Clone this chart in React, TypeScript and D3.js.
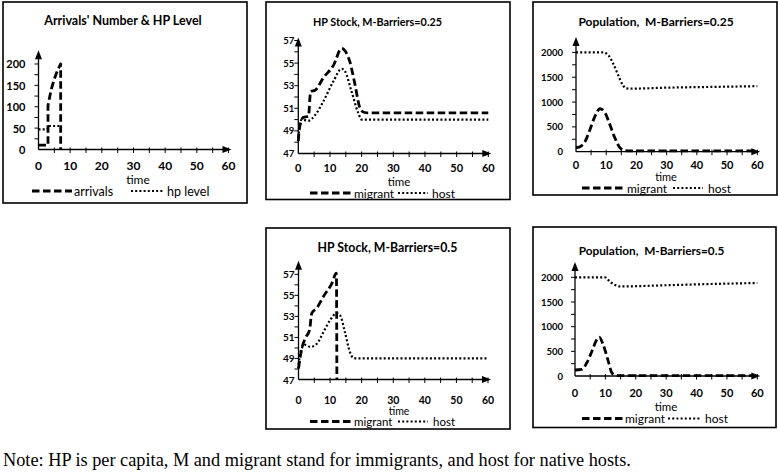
import React from 'react';
import * as d3 from 'd3';

// ---------- data ----------
const timeLabels = [0, 10, 20, 30, 40, 50, 60];

// Panel 1: Arrivals' Number & HP Level
const arrivalsT = [0, 3, 3, 4, 5, 6, 7, 7];
const arrivalsV = [10, 10, 103, 140, 165, 185, 200, 0];
const hpLevelT = [0, 2.8, 3.3, 6.5];
const hpLevelV = [47, 47, 55, 55];
const p1YLabels = [0, 50, 100, 150, 200];

// Panel 2: HP Stock, M-Barriers=0.25
const hp25MigrantT = [0, 0.4, 1.6, 3.2, 3.9, 5.3, 7.9, 11.1, 13.7, 14.7, 16.3, 17.9, 19.5, 20.7, 22, 60];
const hp25MigrantV = [48.1, 49.3, 50.2, 50.3, 52.5, 52.6, 53.7, 54.8, 56.3, 56.1, 55.1, 53.1, 51.0, 50.65, 50.6, 50.6];
const hp25HostT = [0, 1.05, 3.2, 5.3, 7.9, 11.1, 13.7, 14.7, 16.8, 18.9, 20, 21, 60];
const hp25HostV = [48.4, 50, 49.9, 50.4, 51.6, 53.4, 54.5, 54.3, 52.5, 50.6, 50, 50, 50];
const hpYLabels = [47, 49, 51, 53, 55, 57];

// Panel 3: Population, M-Barriers=0.25
const pop25HostT = [0, 9, 10.7, 12.3, 14, 15.6, 16.7, 18, 30, 45, 60];
const pop25HostV = [2000, 2000, 1945, 1775, 1536, 1331, 1275, 1270, 1290, 1305, 1320];
const pop25MigrantT = [0, 1.3, 3, 4.6, 6.3, 7.9, 9.6, 11.2, 12.9, 14.5, 16.2, 18, 60];
const pop25MigrantV = [82, 102, 205, 444, 717, 865, 785, 546, 273, 82, 20, 15, 15];
const popYLabels = [0, 500, 1000, 1500, 2000];

// Panel 4: HP Stock, M-Barriers=0.5
const hp50MigrantT = [0, 1.05, 2.1, 3.5, 4.2, 5.8, 7.9, 10.5, 12, 12.15];
const hp50MigrantV = [48.05, 49.95, 50.9, 51.7, 53.3, 53.8, 54.9, 56.1, 57.1, 47];
const hp50HostT = [0, 1.05, 2.1, 3.7, 5.8, 7.9, 10, 12.1, 13.2, 14.7, 16.3, 17.4, 19, 60];
const hp50HostV = [48.4, 50, 50.3, 50.1, 50.4, 51.5, 52.65, 53.3, 53.1, 51.5, 49.6, 49.05, 49, 49];

// Panel 5: Population, M-Barriers=0.5
const pop50HostT = [0, 9.9, 11.5, 13.2, 14.8, 30, 45, 60];
const pop50HostV = [2000, 2000, 1912, 1845, 1815, 1840, 1865, 1885];
const pop50MigrantT = [0, 2.2, 3.8, 5.5, 7.1, 8.0, 9.3, 11, 12.1, 13.2, 15, 60];
const pop50MigrantV = [122, 135, 257, 493, 730, 790, 628, 290, 68, 20, 8, 8];

const noteText = 'Note: HP is per capita, M and migrant stand for immigrants, and host for native hosts.';

// ---------- styles ----------
const FONT = 'Lato, "Open Sans", sans-serif';
const DASH = { strokeWidth: 2.8, dash: '7.5,3.5' };
const DOT = { strokeWidth: 2.2, dash: '2,2.2' };

type Series = { t: number[]; v: number[]; kind: 'dash' | 'dot'; linear?: boolean };
type LegendItem = { kind: 'dash' | 'dot'; x0: number; x1: number; label: string; tx: number };
type PanelCfg = {
  box: [number, number, number, number];
  title: string;
  titleX: number;
  titleY: number;
  titleSize: number;
  xRange: [number, number];
  yDomain: [number, number];
  yRange: [number, number];
  yMinor: number;
  yMinorMax: number;
  yLabels: number[];
  yLabelGap: number;
  yLabelSize: number;
  xLabelY: number;
  xLabelSize: number;
  timeX: number;
  timeY: number;
  timeSize: number;
  legendY: number;
  legendSize: number;
  legend: LegendItem[];
  series: Series[];
};

function Panel({ cfg }: { cfg: PanelCfg }) {
  const [bx0, by0, bx1, by1] = cfg.box;
  const xs = d3.scaleLinear().domain([0, 60]).range(cfg.xRange);
  const ys = d3.scaleLinear().domain(cfg.yDomain).range(cfg.yRange);
  const ax = xs(0);
  const ay = ys(cfg.yDomain[0]);
  const yTop = ys(cfg.yDomain[1]);
  const xEnd = xs(60);
  const yMinorTicks = d3.range(cfg.yDomain[0] + cfg.yMinor, cfg.yMinorMax + 1e-6, cfg.yMinor);
  const xMinorTicks = d3.range(5, 60.001, 5);

  return (
    <g>
      <rect x={bx0} y={by0} width={bx1 - bx0} height={by1 - by0} fill="white" stroke="black" strokeWidth={1.6} />
      <text x={cfg.titleX} y={cfg.titleY} textAnchor="middle" dominantBaseline="central"
        fontFamily={FONT} fontWeight="bold" fontSize={cfg.titleSize} fill="black"
        style={{ whiteSpace: 'pre' }}>{cfg.title}</text>

      {/* series */}
      {cfg.series.map((s, i) => {
        const pts: [number, number][] = s.t.map((t, k) => [t, s.v[k]]);
        const line = d3.line<[number, number]>()
          .x(d => xs(d[0]))
          .y(d => ys(d[1]))
          .curve(s.linear ? d3.curveLinear : d3.curveMonotoneX);
        const st = s.kind === 'dash' ? DASH : DOT;
        return <path key={i} d={line(pts) || ''} fill="none" stroke="black"
          strokeWidth={st.strokeWidth} strokeDasharray={st.dash} strokeLinejoin="round" />;
      })}

      {/* axes */}
      <line x1={ax} y1={ay} x2={ax} y2={yTop + 4} stroke="black" strokeWidth={1.3} />
      <polygon points={`${ax},${yTop - 3} ${ax - 3.5},${yTop + 6} ${ax + 3.5},${yTop + 6}`} fill="black" />
      <line x1={ax} y1={ay} x2={xEnd - 4} y2={ay} stroke="black" strokeWidth={1.3} />
      <polygon points={`${xEnd + 3},${ay} ${xEnd - 6},${ay - 3.5} ${xEnd - 6},${ay + 3.5}`} fill="black" />

      {yMinorTicks.map((v, i) => (
        <line key={'yt' + i} x1={ax - 4} x2={ax} y1={ys(v)} y2={ys(v)} stroke="black" strokeWidth={1} />
      ))}
      {xMinorTicks.map((t, i) => (
        <line key={'xt' + i} x1={xs(t)} x2={xs(t)} y1={ay - 2} y2={ay + 3.5} stroke="black" strokeWidth={1} />
      ))}

      {cfg.yLabels.map((v, i) => (
        <text key={'yl' + i} x={ax - cfg.yLabelGap} y={ys(v)} textAnchor="end" dominantBaseline="central"
          fontFamily={FONT} fontWeight="bold" fontSize={cfg.yLabelSize} fill="black">{v}</text>
      ))}
      {timeLabels.map((t, i) => (
        <text key={'xl' + i} x={xs(t)} y={cfg.xLabelY} textAnchor="middle" dominantBaseline="central"
          fontFamily={FONT} fontWeight="bold" fontSize={cfg.xLabelSize} fill="black">{t}</text>
      ))}
      <text x={cfg.timeX} y={cfg.timeY} textAnchor="middle" dominantBaseline="central"
        fontFamily={FONT} fontSize={cfg.timeSize} fill="black">time</text>

      {cfg.legend.map((l, i) => {
        const st = l.kind === 'dash' ? DASH : DOT;
        return (
          <g key={'lg' + i}>
            <line x1={l.x0} x2={l.x1} y1={cfg.legendY} y2={cfg.legendY} stroke="black"
              strokeWidth={st.strokeWidth} strokeDasharray={st.dash} />
            <text x={l.tx} y={cfg.legendY} dominantBaseline="central" fontFamily={FONT}
              fontSize={cfg.legendSize} fill="black">{l.label}</text>
          </g>
        );
      })}
    </g>
  );
}

const panels: PanelCfg[] = [
  {
    box: [3, 2, 247, 203],
    title: "Arrivals' Number & HP Level", titleX: 123, titleY: 20, titleSize: 12.5,
    xRange: [38.5, 228.5], yDomain: [0, 225], yRange: [149.5, 53.3],
    yMinor: 25, yMinorMax: 200, yLabels: p1YLabels, yLabelGap: 13, yLabelSize: 11,
    xLabelY: 165, xLabelSize: 12,
    timeX: 138, timeY: 179.5, timeSize: 12, legendY: 191, legendSize: 12.5,
    legend: [
      { kind: 'dash', x0: 32, x1: 72, label: 'arrivals', tx: 74 },
      { kind: 'dot', x0: 131, x1: 163, label: 'hp level', tx: 167 },
    ],
    series: [
      { t: arrivalsT, v: arrivalsV, kind: 'dash', linear: true },
      { t: hpLevelT, v: hpLevelV, kind: 'dot', linear: true },
    ],
  },
  {
    box: [266, 2, 510, 199.5],
    title: 'HP Stock, M-Barriers=0.25', titleX: 377.5, titleY: 21.7, titleSize: 10.8,
    xRange: [298.3, 488.3], yDomain: [47, 57], yRange: [153.5, 40.5],
    yMinor: 1, yMinorMax: 57, yLabels: hpYLabels, yLabelGap: 4, yLabelSize: 9.5,
    xLabelY: 167, xLabelSize: 11,
    timeX: 399, timeY: 181, timeSize: 11.5, legendY: 193, legendSize: 12,
    legend: [
      { kind: 'dash', x0: 310, x1: 352, label: 'migrant', tx: 354 },
      { kind: 'dot', x0: 398, x1: 428, label: 'host', tx: 432 },
    ],
    series: [
      { t: hp25MigrantT, v: hp25MigrantV, kind: 'dash' },
      { t: hp25HostT, v: hp25HostV, kind: 'dot' },
    ],
  },
  {
    box: [533, 2, 777, 195],
    title: 'Population,  M-Barriers=0.25', titleX: 656, titleY: 21.7, titleSize: 12,
    xRange: [576, 757.3], yDomain: [0, 2250], yRange: [151.7, 40],
    yMinor: 250, yMinorMax: 2000, yLabels: popYLabels, yLabelGap: 13, yLabelSize: 9.5,
    xLabelY: 164.5, xLabelSize: 11,
    timeX: 666, timeY: 176, timeSize: 11, legendY: 188, legendSize: 12,
    legend: [
      { kind: 'dash', x0: 582, x1: 625, label: 'migrant', tx: 627 },
      { kind: 'dot', x0: 673, x1: 703, label: 'host', tx: 708 },
    ],
    series: [
      { t: pop25MigrantT, v: pop25MigrantV, kind: 'dash' },
      { t: pop25HostT, v: pop25HostV, kind: 'dot' },
    ],
  },
  {
    box: [266, 228, 510, 429],
    title: 'HP Stock, M-Barriers=0.5', titleX: 387.5, titleY: 247.7, titleSize: 12.3,
    xRange: [298.5, 488], yDomain: [47, 58], yRange: [379.5, 263.8],
    yMinor: 1, yMinorMax: 57, yLabels: hpYLabels, yLabelGap: 4, yLabelSize: 10,
    xLabelY: 399.5, xLabelSize: 10.5,
    timeX: 399, timeY: 410.5, timeSize: 10.5, legendY: 421.5, legendSize: 11.5,
    legend: [
      { kind: 'dash', x0: 310, x1: 352, label: 'migrant', tx: 354 },
      { kind: 'dot', x0: 398, x1: 428, label: 'host', tx: 433 },
    ],
    series: [
      { t: hp50MigrantT, v: hp50MigrantV, kind: 'dash' },
      { t: hp50HostT, v: hp50HostV, kind: 'dot' },
    ],
  },
  {
    box: [533, 227, 776, 427.5],
    title: 'Population,  M-Barriers=0.5', titleX: 651.5, titleY: 250, titleSize: 11.8,
    xRange: [575, 757.3], yDomain: [0, 2250], yRange: [376, 265],
    yMinor: 250, yMinorMax: 2000, yLabels: popYLabels, yLabelGap: 12, yLabelSize: 9.5,
    xLabelY: 392.5, xLabelSize: 11,
    timeX: 666, timeY: 406.5, timeSize: 11.5, legendY: 418.5, legendSize: 12,
    legend: [
      { kind: 'dash', x0: 582, x1: 623, label: 'migrant', tx: 625 },
      { kind: 'dot', x0: 668, x1: 700, label: 'host', tx: 705 },
    ],
    series: [
      { t: pop50MigrantT, v: pop50MigrantV, kind: 'dash' },
      { t: pop50HostT, v: pop50HostV, kind: 'dot' },
    ],
  },
];

export default function App() {
  return (
    <div style={{ position: 'absolute', left: 0, top: 0 }}>
      <svg width={778} height={474} style={{ display: 'block', background: 'white' }}>
        <rect x={0} y={0} width={778} height={474} fill="white" />
        {panels.map((p, i) => <Panel key={i} cfg={p} />)}
        <text x={3} y={466} fontFamily='"Liberation Serif", "Times New Roman", serif' fontSize={18.3} fill="black">
          {noteText}
        </text>
      </svg>
    </div>
  );
}
